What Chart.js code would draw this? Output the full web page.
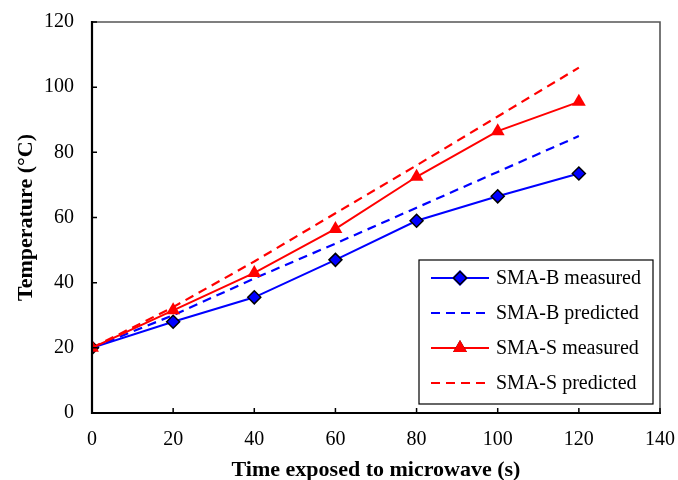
<!DOCTYPE html>
<html>
<head>
<meta charset="utf-8">
<script src="https://cdn.jsdelivr.net/npm/chart.js@4.4.0/dist/chart.umd.min.js"></script>
<style>
  html, body { margin: 0; padding: 0; background: #fff; }
  #wrap { width: 678px; height: 480px; }
</style>
</head>
<body>
<div id="wrap"><canvas id="myChart" width="678" height="480"></canvas></div>
<script>
// time points (s)
const times = [0, 20, 40, 60, 80, 100, 120];
// temperatures (°C)
const smaBMeasured = [20, 28, 35.5, 47, 59, 66.5, 73.5];
const smaBPredicted = [20, 30, 41.3, 52, 63, 74, 85];
const smaSMeasured = [20, 31.5, 43, 56.5, 72.5, 86.5, 95.5];
const smaSPredicted = [20, 32.5, 46.5, 61.3, 76, 91, 106];

const seriesNames = ['SMA-B measured', 'SMA-B predicted', 'SMA-S measured', 'SMA-S predicted'];

const FONT = "'Liberation Serif', 'Times New Roman', serif";

function toPoints(values) {
    return times.map((t, i) => ({ x: t, y: values[i] }));
}

// draws frame, inward ticks and the legend box inside the plot
const framePlugin = {
    id: 'frame',
    afterDatasetsDraw(chart) {
        const ctx = chart.ctx;
        const area = chart.chartArea;
        const xs = chart.scales.x;
        const ys = chart.scales.y;
        ctx.save();

        // top/right border
        ctx.strokeStyle = '#555';
        ctx.lineWidth = 1.6;
        ctx.beginPath();
        ctx.moveTo(area.left, area.top);
        ctx.lineTo(area.right, area.top);
        ctx.lineTo(area.right, area.bottom);
        ctx.stroke();

        // left/bottom axes
        ctx.strokeStyle = '#000';
        ctx.lineWidth = 2.2;
        ctx.beginPath();
        ctx.moveTo(area.left, area.top - 1);
        ctx.lineTo(area.left, area.bottom);
        ctx.lineTo(area.right + 1, area.bottom);
        ctx.stroke();

        // inward ticks
        ctx.lineWidth = 1.5;
        ctx.beginPath();
        xs.ticks.forEach(t => {
            const px = xs.getPixelForValue(t.value);
            ctx.moveTo(px, area.bottom);
            ctx.lineTo(px, area.bottom - 5);
        });
        ys.ticks.forEach(t => {
            const py = ys.getPixelForValue(t.value);
            ctx.moveTo(area.left, py);
            ctx.lineTo(area.left + 5, py);
        });
        ctx.stroke();

        // legend
        const bx = 419, by = 260, bw = 234, bh = 144;
        ctx.fillStyle = '#fff';
        ctx.fillRect(bx, by, bw, bh);
        ctx.strokeStyle = '#000';
        ctx.lineWidth = 1.2;
        ctx.strokeRect(bx, by, bw, bh);

        ctx.font = '20px ' + FONT;
        ctx.textBaseline = 'middle';
        chart.data.datasets.forEach((ds, i) => {
            const y = by + 18 + i * 35;
            ctx.strokeStyle = ds.borderColor;
            ctx.lineWidth = ds.borderWidth;
            ctx.setLineDash(ds.borderDash || []);
            ctx.beginPath();
            ctx.moveTo(431, y);
            ctx.lineTo(489, y);
            ctx.stroke();
            ctx.setLineDash([]);
            if (ds.pointRadius > 0) {
                Chart.helpers.drawPoint(ctx, {
                    pointStyle: ds.pointStyle,
                    radius: ds.pointRadius,
                    rotation: 0,
                    borderWidth: ds.pointBorderWidth
                }, 460, y);
                ctx.fillStyle = ds.pointBackgroundColor;
                ctx.strokeStyle = ds.pointBorderColor;
                ctx.lineWidth = ds.pointBorderWidth;
                ctx.fill();
                if (ds.pointBorderWidth > 0) ctx.stroke();
            }
            ctx.fillStyle = '#000';
            ctx.textAlign = 'left';
            ctx.fillText(seriesNames[i], 496, y + 1);
        });
        ctx.restore();
    }
};

const ctx = document.getElementById('myChart').getContext('2d');
const chart = new Chart(ctx, {
    type: 'line',
    data: {
        datasets: [{
            label: seriesNames[0],
            data: toPoints(smaBMeasured),
            borderColor: '#0000ff',
            borderWidth: 2,
            pointStyle: 'rectRot',
            pointRadius: 6.5,
            pointBackgroundColor: '#0000ff',
            pointBorderColor: '#000',
            pointBorderWidth: 1.5,
            order: 4
        }, {
            label: seriesNames[1],
            data: toPoints(smaBPredicted),
            borderColor: '#0000ff',
            borderWidth: 2.2,
            borderDash: [9, 6],
            pointRadius: 0,
            order: 3
        }, {
            label: seriesNames[2],
            data: toPoints(smaSMeasured),
            borderColor: '#ff0000',
            borderWidth: 2,
            pointStyle: 'triangle',
            pointRadius: 8,
            pointBackgroundColor: '#ff0000',
            pointBorderColor: '#ff0000',
            pointBorderWidth: 0,
            order: 2
        }, {
            label: seriesNames[3],
            data: toPoints(smaSPredicted),
            borderColor: '#ff0000',
            borderWidth: 2.2,
            borderDash: [9, 6],
            pointRadius: 0,
            order: 1
        }]
    },
    options: {
        responsive: false,
        animation: false,
        layout: {
            padding: { left: 0, right: 18, top: 22, bottom: 0 }
        },
        plugins: {
            legend: { display: false },
            tooltip: { enabled: false }
        },
        scales: {
            x: {
                type: 'linear',
                min: 0,
                max: 140,
                border: { display: false },
                grid: { display: false, drawTicks: false },
                ticks: {
                    stepSize: 20,
                    padding: 15,
                    color: '#000',
                    font: { family: FONT, size: 20 }
                },
                title: {
                    display: true,
                    text: 'Time exposed to microwave (s)',
                    color: '#000',
                    font: { family: FONT, size: 22, weight: 'bold' },
                    padding: { top: 8, bottom: -4 }
                },
                afterFit(scale) {
                    scale.height = 67;
                    scale.paddingLeft = 0;
                    scale.paddingRight = 0;
                }
            },
            y: {
                min: 0,
                max: 120,
                border: { display: false },
                grid: { display: false, drawTicks: false },
                ticks: {
                    stepSize: 20,
                    padding: 18,
                    color: '#000',
                    font: { family: FONT, size: 20 }
                },
                title: {
                    display: true,
                    text: 'Temperature (°C)',
                    color: '#000',
                    font: { family: FONT, size: 22, weight: 'bold' },
                    padding: { top: 13, bottom: 0 }
                },
                afterFit(scale) {
                    scale.width = 92;
                    scale.paddingTop = 0;
                    scale.paddingBottom = 0;
                }
            }
        }
    },
    plugins: [framePlugin]
});
</script>
</body>
</html>
